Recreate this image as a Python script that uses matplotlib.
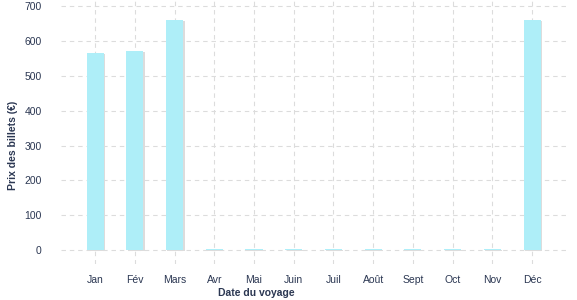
"""Prix des billets par mois de voyage (bar chart, style ggplot-like)."""

import matplotlib

matplotlib.use("Agg")
import matplotlib.pyplot as plt  # noqa: E402
from matplotlib import patheffects  # noqa: E402

plt.rcParams["font.family"] = ["Liberation Sans", "DejaVu Sans"]

MONTHS = ["Jan", "Fév", "Mars", "Avr", "Mai", "Juin", "Juil", "Août",
          "Sept", "Oct", "Nov", "Déc"]
PRICES = [565, 571, 660, 3, 3, 3, 3, 3, 3, 3, 3, 660]
Y_TICKS = [0, 100, 200, 300, 400, 500, 600, 700]

TEXT = "#2b3752"
BAR = "#aeeef8"
GRID = "#dcdcdc"

fig = plt.figure(figsize=(5.77, 3.0), dpi=100)
ax = fig.add_axes([61 / 577, 1 - 264 / 300, (567 - 61) / 577, 263 / 300])

xs = list(range(len(MONTHS)))
bars = ax.bar(xs, PRICES, width=0.43, color=BAR, linewidth=0, zorder=3)
for b in bars:
    b.set_path_effects([
        patheffects.SimplePatchShadow(offset=(1.0, -0.4),
                                      shadow_rgbFace="#dcdcdc", alpha=1.0),
        patheffects.Normal(),
    ])

ax.set_xlim(-0.86, 11.88)
ax.set_ylim(-40, 715)
ax.set_yticks(Y_TICKS)
ax.set_xticks(xs)
ax.set_xticklabels(MONTHS)

ax.grid(True, color=GRID, linestyle=(0, (4, 3.5)), linewidth=0.8, zorder=0)
ax.set_axisbelow(True)
for s in ax.spines.values():
    s.set_visible(False)
ax.tick_params(length=0, labelsize=7.5, labelcolor=TEXT)
ax.tick_params(axis="y", pad=14)
ax.tick_params(axis="x", pad=8)

fig.text(256 / 577, 1 - 293 / 300, "Date du voyage", ha="center", va="center",
         fontsize=7.5, fontweight="bold", color=TEXT)
fig.text(13 / 577, 1 - 145 / 300, "Prix des billets (€)", ha="center",
         va="center", rotation=90, fontsize=7.5, fontweight="bold", color=TEXT)

fig.savefig("out.png", dpi=100)
